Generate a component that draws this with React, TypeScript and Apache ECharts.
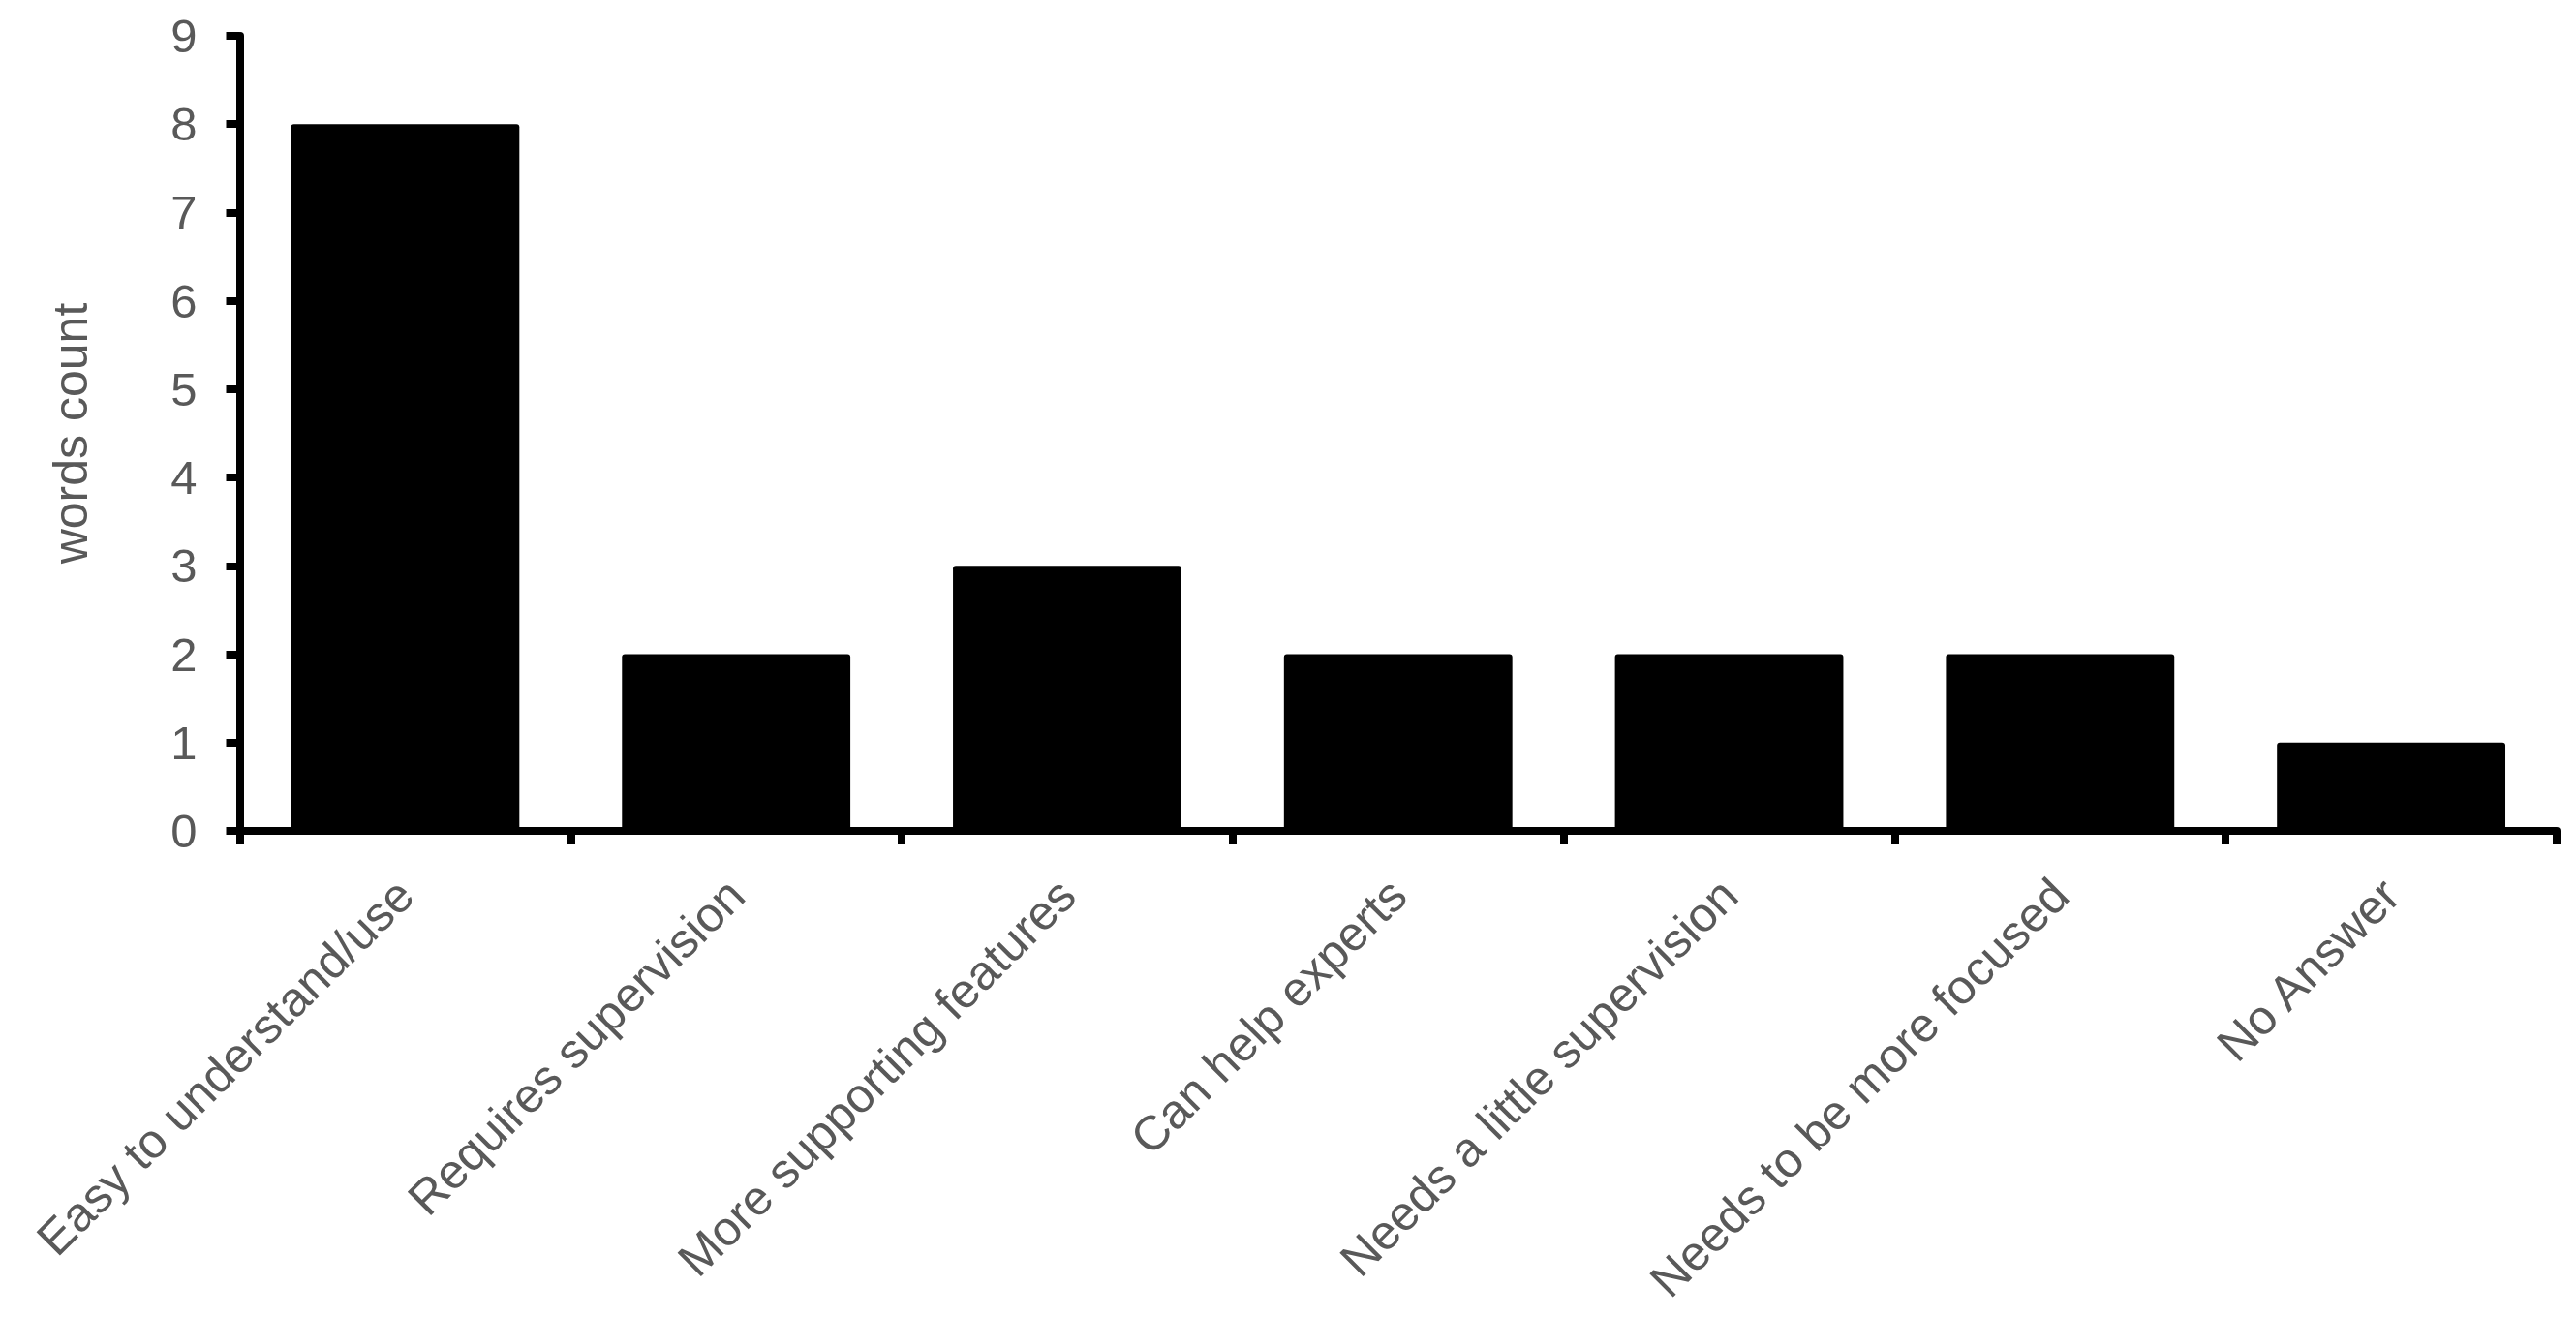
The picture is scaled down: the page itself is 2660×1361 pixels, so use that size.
import React, { useEffect, useRef } from "react";
import * as echarts from "echarts";

const categories = [
  "Easy to understand/use",
  "Requires supervision",
  "More supporting features",
  "Can help experts",
  "Needs a little supervision",
  "Needs to be more focused",
  "No Answer",
];
const wordCounts = [8, 2, 3, 2, 2, 2, 1];
const yAxisTitle = "words count";
const yMin = 0;
const yMax = 9;
const yStep = 1;

const FONT = "'Liberation Sans', Arial, sans-serif";
const TEXT_COLOR = "#595959";

export default function App() {
  const ref = useRef<HTMLDivElement>(null);

  useEffect(() => {
    if (!ref.current) return;
    const chart = echarts.init(ref.current, undefined, { renderer: "svg" });
    chart.setOption({
      animation: false,
      backgroundColor: "#ffffff",
      grid: { left: 247.5, right: 20, top: 37, bottom: 503, containLabel: false },
      xAxis: {
        type: "category",
        data: categories,
        boundaryGap: true,
        axisLine: { show: true, lineStyle: { color: "#000", width: 8 } },
        axisTick: { show: true, length: 14, lineStyle: { color: "#000", width: 8 } },
        axisLabel: {
          rotate: 45,
          interval: 0,
          margin: 58,
          color: TEXT_COLOR,
          fontFamily: FONT,
          fontSize: 50,
        },
        splitLine: { show: false },
      },
      yAxis: {
        type: "value",
        min: yMin,
        max: yMax,
        interval: yStep,
        name: yAxisTitle,
        nameLocation: "middle",
        nameGap: 150,
        nameRotate: 90,
        nameTextStyle: { color: TEXT_COLOR, fontFamily: FONT, fontSize: 50 },
        axisLine: { show: true, lineStyle: { color: "#000", width: 8 } },
        axisTick: { show: true, length: 14, lineStyle: { color: "#000", width: 8 } },
        axisLabel: {
          margin: 44,
          color: TEXT_COLOR,
          fontFamily: FONT,
          fontSize: 49,
        },
        splitLine: { show: false },
      },
      series: [
        {
          type: "bar",
          data: wordCounts,
          barCategoryGap: "31%",
          itemStyle: { color: "#000000", borderRadius: [3, 3, 0, 0] },
        },
      ],
    });
    return () => chart.dispose();
  }, []);

  return (
    <div
      ref={ref}
      style={{ position: "fixed", left: 0, top: 0, width: 2660, height: 1361, background: "#fff" }}
    />
  );
}
